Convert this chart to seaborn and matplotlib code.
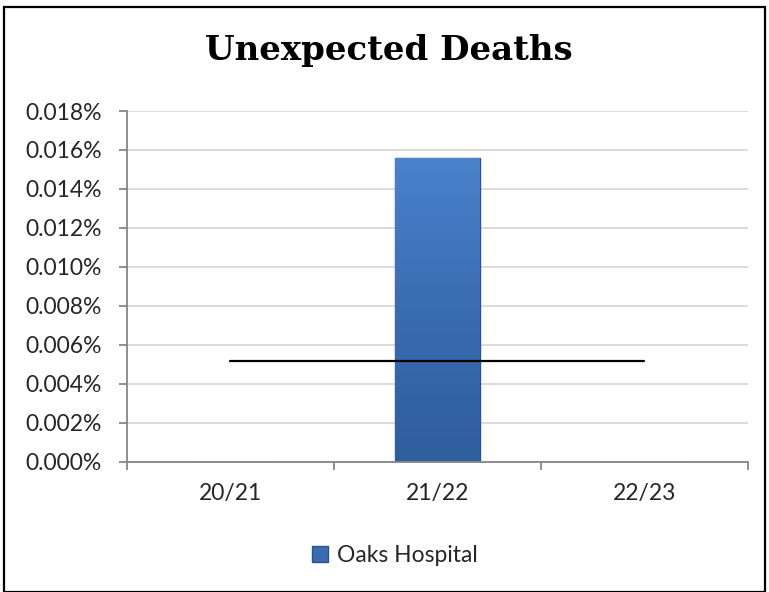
import matplotlib
matplotlib.use("Agg")
import matplotlib.pyplot as plt
import matplotlib.patches as mpatches
from matplotlib.colors import LinearSegmentedColormap
from matplotlib.ticker import FuncFormatter, FixedLocator
import seaborn as sns
import pandas as pd
import numpy as np

# data (values in percent)
years = ["20/21", "21/22", "22/23"]
oaks = [0.0, 0.0156, 0.0]
benchmark = [0.0052, 0.0052, 0.0052]
y_ticks = [0.000, 0.002, 0.004, 0.006, 0.008, 0.010, 0.012, 0.014, 0.016, 0.018]

df = pd.DataFrame({"Year": years, "Oaks Hospital": oaks})

sns.set_style("white")
plt.rcParams["font.family"] = ["Lato", "DejaVu Sans"]

fig = plt.figure(figsize=(7.69, 5.92), dpi=100)
ax = fig.add_axes([0.1651, 0.2196, 0.8076, 0.5929])

sns.barplot(data=df, x="Year", y="Oaks Hospital", color="#3d6fb6",
            edgecolor="#2b538c", linewidth=1.0, width=0.41, saturation=1, ax=ax)

# excel-ish shading on the bar
grad = LinearSegmentedColormap.from_list("bar", ["#2f5e9e", "#3a6cb2", "#4a82cc"])
for p in ax.patches:
    if p.get_height() > 0:
        im = ax.imshow(np.linspace(0, 1, 100).reshape(-1, 1), cmap=grad, aspect="auto",
                       origin="lower", zorder=p.get_zorder() + 0.1,
                       extent=[p.get_x(), p.get_x() + p.get_width(), 0, p.get_height()])
        im.set_clip_path(p)

# benchmark line across category centres
ax.plot(range(len(years)), benchmark, color="black", linewidth=1.6, zorder=4)

ax.set_xlim(-0.5, 2.5)
ax.set_ylim(0, 0.018)
ax.yaxis.set_major_locator(FixedLocator(y_ticks))
ax.yaxis.set_major_formatter(FuncFormatter(lambda v, p: f"{v:.3f}%"))
ax.grid(axis="y", color="#d9d9d9", linewidth=1.3)
ax.set_axisbelow(True)
ax.set_xlabel("")
ax.set_ylabel("")

for s in ["top", "right"]:
    ax.spines[s].set_visible(False)
for s in ["left", "bottom"]:
    ax.spines[s].set_color("#868686")
    ax.spines[s].set_linewidth(1.3)

ax.tick_params(axis="y", direction="out", length=6, width=1.3, color="#868686",
               labelsize=16.5, labelcolor="#262626", pad=12, left=True)
ax.set_xticks(range(len(years)))
ax.set_xticklabels(years)
ax.tick_params(axis="x", which="major", length=0, labelsize=16.5,
               labelcolor="#262626", pad=15)
ax.set_xticks([-0.5, 0.5, 1.5, 2.5], minor=True)
ax.tick_params(axis="x", which="minor", direction="out", length=6, width=1.3,
               color="#868686", bottom=True)

fig.text(0.506, 0.915, "Unexpected Deaths", ha="center", va="center",
         fontsize=24.5, fontweight="bold", family=["DejaVu Serif"], color="black")

handle = mpatches.Patch(facecolor="#3a6cb2", edgecolor="#2b538c", label="Oaks Hospital")
fig.legend(handles=[handle], loc="center", bbox_to_anchor=(0.513, 0.062),
           frameon=False, fontsize=16.5, handlelength=0.7, handleheight=0.7,
           handletextpad=0.4)

# outer chart border
fig.patches.append(mpatches.Rectangle((4 / 769, 0.0), 761 / 769, 585 / 592,
                                      transform=fig.transFigure, fill=False,
                                      edgecolor="black", linewidth=1.6))

fig.savefig("out.png", dpi=100, facecolor="white")
